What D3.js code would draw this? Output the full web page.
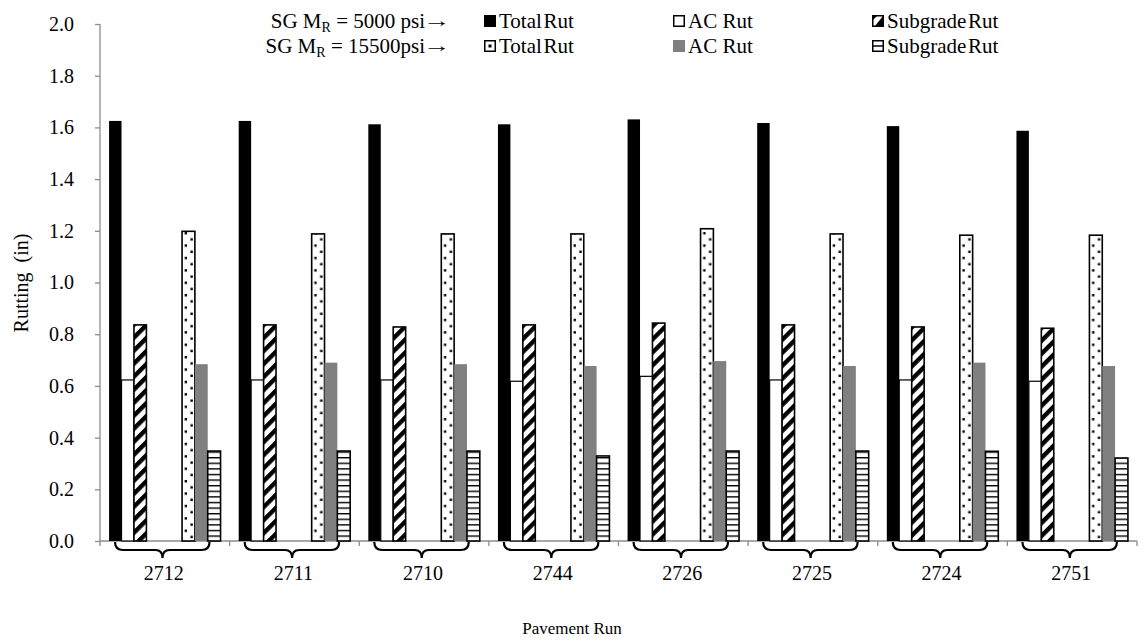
<!DOCTYPE html>
<html>
<head>
<meta charset="utf-8">
<script src="https://cdn.jsdelivr.net/npm/d3@7"></script>
<style>
  body { margin: 0; background: #fff; }
  text { font-family: "Liberation Serif", "Times New Roman", serif; fill: #000; }
</style>
</head>
<body>
<svg id="chart" width="1144" height="643"></svg>
<script>
// Pavement runs on the x axis
const runs = ["2712", "2711", "2710", "2744", "2726", "2725", "2724", "2751"];

// Subgrade MR = 5000 psi
const totalRut5000    = [1.625, 1.625, 1.612, 1.612, 1.631, 1.617, 1.605, 1.587];
const acRut5000       = [0.623, 0.623, 0.623, 0.618, 0.637, 0.623, 0.623, 0.618];
const subgradeRut5000 = [0.836, 0.836, 0.828, 0.836, 0.843, 0.836, 0.828, 0.823];

// Subgrade MR = 15500 psi
const totalRut15500    = [1.198, 1.188, 1.188, 1.188, 1.208, 1.188, 1.183, 1.183];
const acRut15500       = [0.684, 0.690, 0.684, 0.677, 0.696, 0.677, 0.690, 0.677];
const subgradeRut15500 = [0.348, 0.348, 0.348, 0.329, 0.348, 0.348, 0.347, 0.321];

const yTicks = [0, 0.2, 0.4, 0.6, 0.8, 1.0, 1.2, 1.4, 1.6, 1.8, 2.0];

const series = [
  { key: "t5",  values: totalRut5000,     cluster: 0, style: "solidBlack" },
  { key: "a5",  values: acRut5000,        cluster: 0, style: "white" },
  { key: "s5",  values: subgradeRut5000,  cluster: 0, style: "hatch" },
  { key: "t15", values: totalRut15500,    cluster: 1, style: "dots" },
  { key: "a15", values: acRut15500,       cluster: 1, style: "gray" },
  { key: "s15", values: subgradeRut15500, cluster: 1, style: "hlines" }
];

const svg = d3.select("#chart");
const axisColor = "#8c8c8c";
const serif = '"Liberation Serif", "Times New Roman", serif';
const plot = { left: 100, right: 1137, top: 24, bottom: 541 };

const x = d3.scaleBand().domain(runs).range([plot.left, plot.right]).padding(0);
const y = d3.scaleLinear().domain([0, 2]).range([plot.bottom, plot.top]);
const bw = x.bandwidth();
const cluster = [
  d3.scaleBand().domain(["t5", "a5", "s5"]).range([bw * 0.070, bw * 0.358]),
  d3.scaleBand().domain(["t15", "a15", "s15"]).range([bw * 0.633, bw * 0.930])
];

// ---- fill patterns ----
const defs = svg.append("defs");

const hatch = defs.append("pattern")
  .attr("id", "hatch").attr("patternUnits", "userSpaceOnUse")
  .attr("width", 9.2).attr("height", 9.2)
  .attr("patternTransform", "rotate(45)");
hatch.append("rect").attr("width", 9.2).attr("height", 9.2).attr("fill", "#fff");
hatch.append("rect").attr("x", 0).attr("width", 4.4).attr("height", 9.2).attr("fill", "#000");

const hl = defs.append("pattern")
  .attr("id", "hlines").attr("patternUnits", "userSpaceOnUse")
  .attr("width", 8).attr("height", 5.6).attr("y", plot.bottom);
hl.append("rect").attr("width", 8).attr("height", 5.6).attr("fill", "#fff");
hl.append("rect").attr("y", 0).attr("width", 8).attr("height", 1.4).attr("fill", "#000");

// dotted patterns aligned to each bar
runs.forEach((r, i) => {
  const bx = x(r) + cluster[1]("t15");
  const p = defs.append("pattern")
    .attr("id", "dots" + i).attr("patternUnits", "userSpaceOnUse")
    .attr("x", bx).attr("y", plot.bottom).attr("width", 12).attr("height", 12.4);
  p.append("rect").attr("width", 12).attr("height", 12.4).attr("fill", "#fff");
  p.append("rect").attr("x", 2.6).attr("y", 1).attr("width", 2.4).attr("height", 2.4).attr("fill", "#000");
  p.append("rect").attr("x", 8.4).attr("y", 7.2).attr("width", 2.4).attr("height", 2.4).attr("fill", "#000");
});

function fillFor(style, i) {
  switch (style) {
    case "solidBlack": return "#000";
    case "white": return "#fff";
    case "hatch": return "url(#hatch)";
    case "dots": return `url(#dots${i})`;
    case "gray": return "#808080";
    case "hlines": return "url(#hlines)";
  }
}
function strokeFor(style) {
  return (style === "solidBlack" || style === "gray") ? "none" : "#000";
}
function strokeWidthFor(style) {
  return style === "white" ? 1.2 : 1.6;
}

// ---- axes ----
const yAxis = d3.axisLeft(y).tickValues(yTicks).tickFormat(d3.format(".1f")).tickSize(5).tickPadding(21);
const gy = svg.append("g").attr("transform", `translate(${plot.left},0)`).call(yAxis)
  .attr("font-family", serif).attr("font-size", 20);
gy.select(".domain").attr("stroke", axisColor).attr("stroke-width", 1.3).attr("d", `M0,${plot.top}V${plot.bottom}`);
gy.selectAll(".tick line").attr("stroke", axisColor).attr("stroke-width", 1.3);
gy.selectAll(".tick text").style("font-size", "20px").style("font-family", serif);

// x-axis line with tick marks on category boundaries
const gx = svg.append("g");
gx.append("line").attr("x1", plot.left).attr("x2", plot.right)
  .attr("y1", plot.bottom).attr("y2", plot.bottom)
  .attr("stroke", axisColor).attr("stroke-width", 1.3);
gx.selectAll("line.tk").data(runs.concat(["end"])).join("line").attr("class", "tk")
  .attr("x1", (d, i) => i < runs.length ? x(d) : plot.right)
  .attr("x2", (d, i) => i < runs.length ? x(d) : plot.right)
  .attr("y1", plot.bottom).attr("y2", plot.bottom + 5)
  .attr("stroke", axisColor).attr("stroke-width", 1.3);

// ---- bars ----
series.forEach(s => {
  svg.append("g").selectAll("rect").data(s.values).join("rect")
    .attr("x", (d, i) => x(runs[i]) + cluster[s.cluster](s.key))
    .attr("width", cluster[s.cluster].bandwidth())
    .attr("y", d => y(d))
    .attr("height", d => y(0) - y(d))
    .attr("fill", (d, i) => fillFor(s.style, i))
    .attr("stroke", strokeFor(s.style))
    .attr("stroke-width", strokeWidthFor(s.style));
});

// ---- braces under each group ----
const braces = svg.append("g");
runs.forEach(r => {
  const L = x(r) + bw * 0.116, R = x(r) + bw * 0.845, M = x(r) + bw * 0.482;
  const t = plot.bottom + 1, h = plot.bottom + 9, tip = plot.bottom + 17;
  braces.append("path")
    .attr("d", `M${L},${t} Q${L},${h} ${L + 8},${h} H${M - 7} Q${M},${h} ${M},${tip} Q${M},${h} ${M + 7},${h} H${R - 8} Q${R},${h} ${R},${t}`)
    .attr("fill", "none").attr("stroke", "#000").attr("stroke-width", 2.2);
});

svg.append("g").selectAll("text").data(runs).join("text")
  .attr("x", d => x(d) + bw / 2 - 1).attr("y", 580)
  .attr("text-anchor", "middle").style("font-size", "20px").text(d => d);

// ---- axis titles ----
svg.append("text").attr("x", 572).attr("y", 634).attr("text-anchor", "middle")
  .style("font-size", "17px").text("Pavement Run");
svg.append("text").attr("transform", "translate(28,283) rotate(-90)")
  .attr("text-anchor", "middle").style("font-size", "20px")
  .attr("xml:space", "preserve").text("Rutting  (in)");

// ---- legend ----
const legend = svg.append("g");
const rowsY = [28, 53];
rowsY.forEach((ry, k) => {
  const t = legend.append("text").attr("x", 425).attr("y", ry).attr("text-anchor", "end").style("font-size", "21px");
  t.append("tspan").text("SG M");
  t.append("tspan").attr("dy", 4).style("font-size", "14px").text("R");
  t.append("tspan").attr("dy", -4).text(" = " + (k === 0 ? "5000 psi" : "15500psi"));
  // long thin arrow after the label
  legend.append("text").attr("transform", `translate(423,${ry - 1}) scale(1.45,1)`)
    .style("font-size", "19px").text("\u2192");
});

const legendItems = [
  { row: 0, col: 0, style: "solidBlack", label: "Total\u200ARut" },
  { row: 0, col: 1, style: "white", label: "AC Rut" },
  { row: 0, col: 2, style: "hatch", label: "Subgrade\u200ARut" },
  { row: 1, col: 0, style: "dots", label: "Total\u200ARut" },
  { row: 1, col: 1, style: "gray", label: "AC Rut" },
  { row: 1, col: 2, style: "hlines", label: "Subgrade\u200ARut" }
];
const colX = [484, 673, 872];
legendItems.forEach(it => {
  const gx0 = colX[it.col], gy0 = rowsY[it.row] - 13;
  const g = legend.append("g").attr("transform", `translate(${gx0},${gy0})`);
  const s = 12;
  if (it.style === "solidBlack") {
    g.append("rect").attr("width", s).attr("height", s).attr("fill", "#000");
  } else if (it.style === "gray") {
    g.append("rect").attr("width", s).attr("height", s).attr("fill", "#808080");
  } else {
    g.append("rect").attr("x", 0.75).attr("y", 0.75).attr("width", s - 1.5).attr("height", s - 1.5)
      .attr("fill", "#fff").attr("stroke", "#000").attr("stroke-width", 1.5);
    if (it.style === "hatch") {
      g.append("path").attr("d", `M1,${s - 1} V1 H${s - 3} L1,${s - 1} Z`).attr("fill", "#000")
        .attr("transform", `rotate(180 ${s / 2} ${s / 2})`);
      g.append("path").attr("d", `M1,1 H5 L1,5 Z`).attr("fill", "#000");
    } else if (it.style === "dots") {
      g.append("rect").attr("x", s / 2 - 1.5).attr("y", s / 2 - 1.5).attr("width", 3).attr("height", 3).attr("fill", "#000");
    } else if (it.style === "hlines") {
      g.append("line").attr("x1", 1).attr("x2", s - 1).attr("y1", s / 2).attr("y2", s / 2)
        .attr("stroke", "#000").attr("stroke-width", 1.5);
    }
  }
  legend.append("text").attr("x", gx0 + 15).attr("y", rowsY[it.row]).style("font-size", "21px").text(it.label);
});
</script>
</body>
</html>
